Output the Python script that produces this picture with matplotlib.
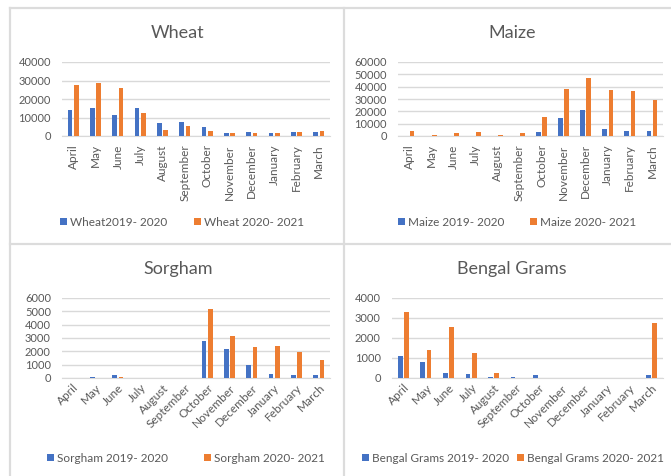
import numpy as np
import matplotlib
matplotlib.use("Agg")
import matplotlib.pyplot as plt
from matplotlib.lines import Line2D

plt.rcParams['font.family'] = ['Lato', 'DejaVu Sans']

months = ["April", "May", "June", "July", "August", "September",
          "October", "November", "December", "January", "February", "March"]

wheat_1920 = [13900, 15400, 11100, 15000, 6800, 7700, 5000, 1800, 2100, 1400, 2100, 2100]
wheat_2021 = [27500, 28750, 25700, 12700, 3200, 5400, 2900, 1400, 1800, 1400, 2100, 2500]
maize_1920 = [0, 0, 0, 0, 0, 0, 3500, 14700, 21400, 5400, 4300, 4300]
maize_2021 = [4000, 1100, 2700, 3200, 1100, 2100, 15800, 38000, 47200, 37500, 36500, 29200]
sorgham_1920 = [0, 100, 200, 0, 0, 0, 2800, 2180, 990, 300, 250, 200]
sorgham_2021 = [0, 0, 100, 0, 0, 0, 5140, 3160, 2330, 2380, 1920, 1370]
bengal_1920 = [1110, 790, 270, 200, 70, 70, 130, 0, 0, 0, 0, 170]
bengal_2021 = [3290, 1410, 2550, 1240, 270, 0, 0, 0, 0, 0, 0, 2750]

BLUE = "#4472C4"
ORANGE = "#ED7D31"
GRID = "#d9d9d9"
TEXT = "#595959"

W, H = 671, 476


def px_rect(x0, y0, x1, y1):
    # pixel box (top-left origin) -> figure fraction rect
    return [x0 / W, 1 - y1 / H, (x1 - x0) / W, (y1 - y0) / H]


def draw_panel(fig, rect, title, title_xy, s1, s2, labels, ymax, ystep, rot, leg_xy, colsp):
    ax = fig.add_axes(rect)
    x = np.arange(len(months))
    bw = 0.21
    ax.bar(x - 0.14, s1, bw, color=BLUE, label=labels[0], zorder=3)
    ax.bar(x + 0.14, s2, bw, color=ORANGE, label=labels[1], zorder=3)
    ax.set_xlim(-0.5, len(months) - 0.5)
    ax.set_ylim(0, ymax)
    ax.set_yticks(np.arange(0, ymax + 1, ystep))
    ax.yaxis.grid(True, color=GRID, lw=1, zorder=0)
    for s in ["top", "right", "left"]:
        ax.spines[s].set_visible(False)
    ax.spines["bottom"].set_color(GRID)
    ax.tick_params(axis="both", length=0, colors=TEXT)
    ax.tick_params(axis="y", pad=8, labelsize=8)
    ax.tick_params(axis="x", labelsize=8.5)
    ax.set_xticks(x)
    if rot == 90:
        ax.set_xticklabels(months, rotation=90, ha="center", va="top")
        ax.tick_params(axis="x", pad=6)
    else:
        ax.set_xticklabels(months, rotation=45, ha="right", va="top", rotation_mode="anchor")
        ax.tick_params(axis="x", pad=3)
    fig.text(title_xy[0], title_xy[1], title, ha="center", va="center", fontsize=13, color=TEXT)
    ax.legend(loc="center", bbox_to_anchor=leg_xy, bbox_transform=fig.transFigure,
              ncol=2, frameon=False, fontsize=8.5, labelcolor=TEXT,
              handlelength=0.6, handleheight=0.6, handletextpad=0.25, columnspacing=colsp)
    return ax


fig = plt.figure(figsize=(W / 100, H / 100), dpi=100)
fig.patch.set_facecolor("white")

draw_panel(fig, px_rect(62, 62, 330, 136), "Wheat", (178 / W, 1 - 33 / H),
           wheat_1920, wheat_2021, ["Wheat2019- 2020", "Wheat 2020- 2021"],
           40000, 10000, 90, (182 / W, 1 - 222 / H), 2.2)
draw_panel(fig, px_rect(398, 62, 663, 136), "Maize", (512 / W, 1 - 33 / H),
           maize_1920, maize_2021, ["Maize 2019- 2020", "Maize 2020- 2021"],
           60000, 10000, 90, (517 / W, 1 - 222 / H), 2.2)
draw_panel(fig, px_rect(62, 298, 330, 378), "Sorgham", (178 / W, 1 - 269 / H),
           sorgham_1920, sorgham_2021, ["Sorgham 2019- 2020", "Sorgham 2020- 2021"],
           6000, 1000, 45, (186 / W, 1 - 458 / H), 3.0)
draw_panel(fig, px_rect(392, 298, 663, 378), "Bengal Grams", (512 / W, 1 - 269 / H),
           bengal_1920, bengal_2021, ["Bengal Grams 2019- 2020", "Bengal Grams 2020- 2021"],
           4000, 1000, 45, (513 / W, 1 - 458 / H), 0.6)

# panel border lines
for xs, ys in [((10, 10), (8, 476)), ((10, 671), (8, 8)),
               ((344, 344), (8, 476)), ((10, 671), (244, 244))]:
    fig.add_artist(Line2D([v / W for v in xs], [1 - v / H for v in ys],
                          color="#dcdcdc", lw=1.6, transform=fig.transFigure))

fig.savefig("out.png", dpi=100, facecolor="white")
